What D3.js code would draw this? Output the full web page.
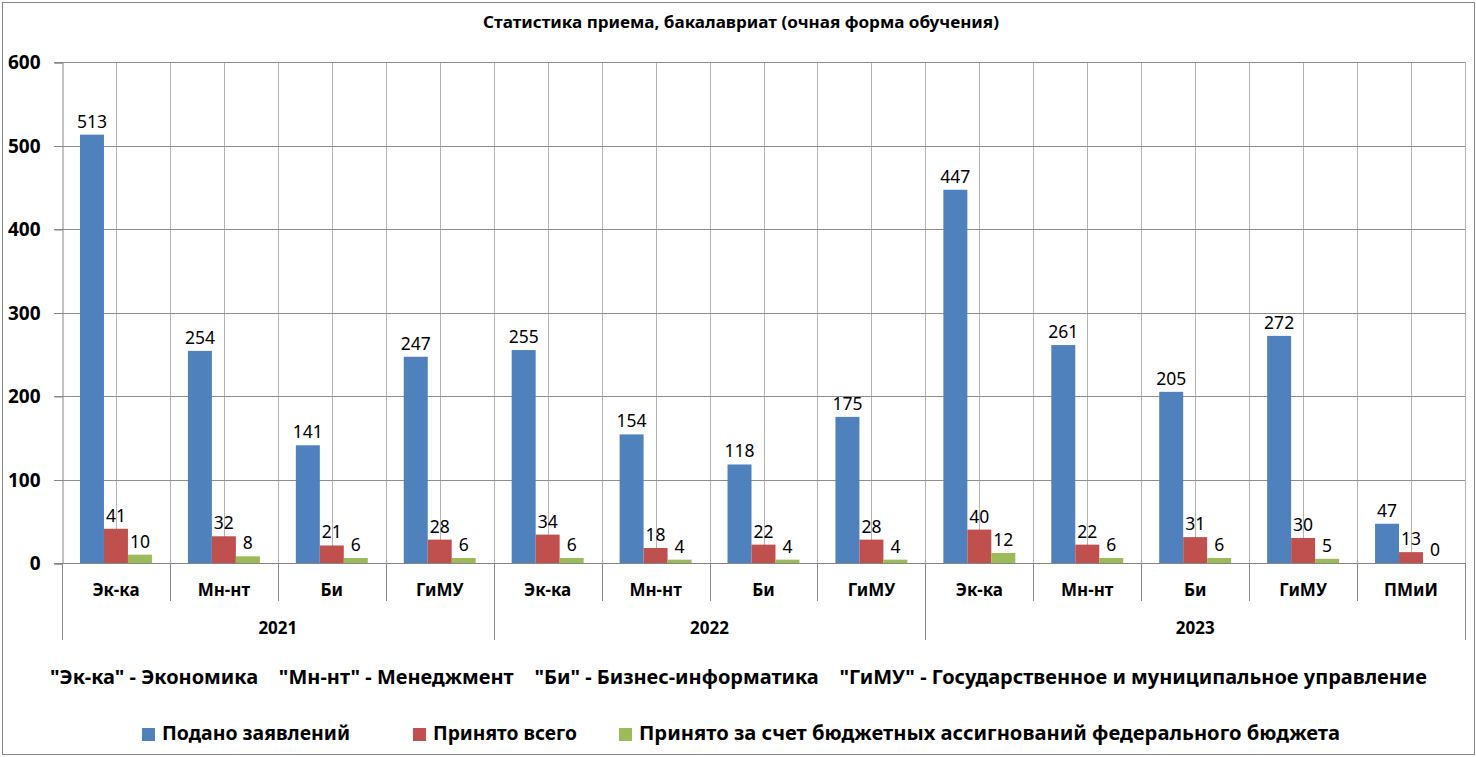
<!DOCTYPE html>
<html><head><meta charset="utf-8">
<script src="https://cdn.jsdelivr.net/npm/d3@7/dist/d3.min.js"></script>
<style>
body{margin:0;background:#fff}
svg{display:block}
text{font-family:"Noto Sans","Open Sans",sans-serif}
</style></head>
<body><svg id="c" width="1476" height="757"></svg>
<script>
const title = "Статистика приема, бакалавриат (очная форма обучения)";
const years = ["2021", "2022", "2023"];
const categories = ["Эк-ка","Мн-нт","Би","ГиМУ","Эк-ка","Мн-нт","Би","ГиМУ","Эк-ка","Мн-нт","Би","ГиМУ","ПМиИ"];
const categoryYear = ["2021","2021","2021","2021","2022","2022","2022","2022","2023","2023","2023","2023","2023"];
const seriesNames = ["Подано заявлений", "Принято всего", "Принято за счет бюджетных ассигнований федерального бюджета"];
const applied  = [513, 254, 141, 247, 255, 154, 118, 175, 447, 261, 205, 272, 47];
const admitted = [41, 32, 21, 28, 34, 18, 22, 28, 40, 22, 31, 30, 13];
const budget   = [10, 8, 6, 6, 6, 4, 4, 4, 12, 6, 6, 5, 0];
const yTicks = [0, 100, 200, 300, 400, 500, 600];
const note = "\"Эк-ка\" - Экономика    \"Мн-нт\" - Менеджмент    \"Би\" - Бизнес-информатика    \"ГиМУ\" - Государственное и муниципальное управление";
const colors = ["#4F81BD", "#C0504D", "#9BBB59"];

const seriesValues = [applied, admitted, budget];
const svg = d3.select("#c");

// chart border
svg.append("rect").attr("x", 2.5).attr("y", 2.5).attr("width", 1472).attr("height", 752)
  .attr("fill", "#fff").attr("stroke", "#868686").attr("stroke-width", 1);

const plotL = 62, plotR = 1465, plotT = 62, plotB = 563;
const x = d3.scaleBand().domain(d3.range(categories.length)).range([plotL, plotR]).padding(0);
const bw = x.bandwidth();
const xs = d3.scaleBand().domain(d3.range(3)).range([bw / 6, bw * 5 / 6]).padding(0);
const y = d3.scaleLinear().domain([0, 600]).range([plotB, plotT]);

// vertical gridlines (category boundaries and centers)
const vlines = [];
categories.forEach((c, i) => { vlines.push(x(i) + bw / 2); vlines.push(x(i) + bw); });
svg.append("g").selectAll("line").data(vlines).join("line")
  .attr("x1", d => Math.round(d) + 0.5).attr("x2", d => Math.round(d) + 0.5)
  .attr("y1", plotT).attr("y2", plotB)
  .attr("stroke", "#b4b4b4").attr("stroke-width", 1);

// horizontal gridlines
svg.append("g").selectAll("line").data(yTicks.filter(t => t > 0)).join("line")
  .attr("x1", plotL - 8).attr("x2", plotR)
  .attr("y1", d => Math.round(y(d)) + 0.5).attr("y2", d => Math.round(y(d)) + 0.5)
  .attr("stroke", "#8e8e8e").attr("stroke-width", 1);

// y axis
const yAxis = d3.axisLeft(y).tickValues(yTicks).tickSize(8).tickPadding(14);
const gy = svg.append("g").attr("transform", `translate(${plotL + 0.5},0.5)`).call(yAxis);
gy.select(".domain").attr("stroke", "#868686");
gy.selectAll(".tick line").attr("stroke", "#868686");
gy.selectAll(".tick text").attr("font-size", 19).attr("font-weight", "bold").attr("fill", "#000")
  .attr("font-family", "\"Noto Sans\",sans-serif");

// bars
const bars = svg.append("g");
seriesValues.forEach((vals, s) => {
  bars.append("g").selectAll("rect").data(vals).join("rect")
    .attr("x", (d, i) => x(i) + xs(s))
    .attr("width", xs.bandwidth())
    .attr("y", d => y(d))
    .attr("height", d => y(0) - y(d))
    .attr("fill", colors[s]);
  bars.append("g").selectAll("text").data(vals).join("text")
    .attr("x", (d, i) => x(i) + xs(s) + xs.bandwidth() / 2)
    .attr("y", d => y(d) - 7)
    .attr("text-anchor", "middle")
    .attr("font-size", 17.5)
    .attr("fill", "#000")
    .text(d => d);
});

// x axis line
svg.append("line").attr("x1", plotL - 8).attr("x2", plotR)
  .attr("y1", plotB + 0.5).attr("y2", plotB + 0.5).attr("stroke", "#868686");

// category separators
const catBounds = d3.range(categories.length + 1).map(i => i < categories.length ? x(i) : plotR);
svg.append("g").selectAll("line").data(catBounds).join("line")
  .attr("x1", d => Math.round(d) + 0.5).attr("x2", d => Math.round(d) + 0.5)
  .attr("y1", plotB).attr("y2", 601)
  .attr("stroke", "#868686");

// category labels
svg.append("g").selectAll("text").data(categories).join("text")
  .attr("x", (d, i) => x(i) + bw / 2).attr("y", 596)
  .attr("text-anchor", "middle").attr("font-size", 17).attr("font-weight", "bold")
  .text(d => d);

// year groups
const groups = years.map(yr => {
  const idx = d3.range(categories.length).filter(i => categoryYear[i] === yr);
  return { yr, x0: x(idx[0]), x1: x(idx[idx.length - 1]) + bw };
});
const gBounds = [groups[0].x0, ...groups.map(g => g.x1)];
svg.append("g").selectAll("line").data(gBounds).join("line")
  .attr("x1", d => Math.round(d) + 0.5).attr("x2", d => Math.round(d) + 0.5)
  .attr("y1", plotB).attr("y2", 640)
  .attr("stroke", "#868686");
svg.append("g").selectAll("text").data(groups).join("text")
  .attr("x", d => (d.x0 + d.x1) / 2).attr("y", 634)
  .attr("text-anchor", "middle").attr("font-size", 17).attr("font-weight", "bold")
  .text(d => d.yr);

// title
svg.append("text").attr("x", 741).attr("y", 28).attr("text-anchor", "middle")
  .attr("font-size", 15.5).attr("font-weight", "bold")
  .attr("textLength", 516).attr("lengthAdjust", "spacingAndGlyphs")
  .text(title);

// note
svg.append("text").attr("x", 50).attr("y", 684)
  .attr("font-size", 19.5).attr("font-weight", "bold")
  .style("white-space", "pre")
  .attr("textLength", 1377).attr("lengthAdjust", "spacingAndGlyphs")
  .text(note);

// legend
const legendItems = [
  { sq: 142, tx: 162, w: 188 },
  { sq: 413, tx: 433, w: 144 },
  { sq: 619, tx: 639, w: 701 }
];
const lg = svg.append("g");
seriesNames.forEach((n, i) => {
  const it = legendItems[i];
  lg.append("rect").attr("x", it.sq).attr("y", 728).attr("width", 13).attr("height", 13).attr("fill", colors[i]);
  lg.append("text").attr("x", it.tx).attr("y", 740)
    .attr("font-size", 19.5).attr("font-weight", "bold")
    .attr("textLength", it.w).attr("lengthAdjust", "spacingAndGlyphs")
    .text(n);
});
</script>
</body></html>
